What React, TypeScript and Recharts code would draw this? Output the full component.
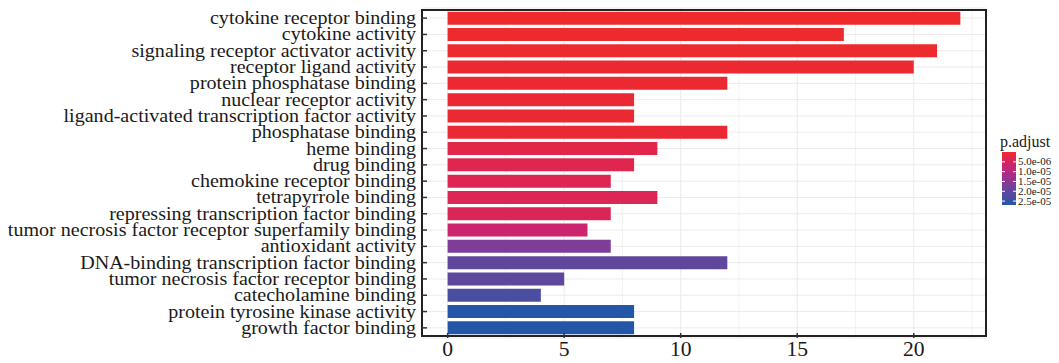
import React from "react";
import { BarChart, Bar, XAxis, YAxis, CartesianGrid, ReferenceArea, Cell } from "recharts";

const terms = [
  "cytokine receptor binding",
  "cytokine activity",
  "signaling receptor activator activity",
  "receptor ligand activity",
  "protein phosphatase binding",
  "nuclear receptor activity",
  "ligand-activated transcription factor activity",
  "phosphatase binding",
  "heme binding",
  "drug binding",
  "chemokine receptor binding",
  "tetrapyrrole binding",
  "repressing transcription factor binding",
  "tumor necrosis factor receptor superfamily binding",
  "antioxidant activity",
  "DNA-binding transcription factor binding",
  "tumor necrosis factor receptor binding",
  "catecholamine binding",
  "protein tyrosine kinase activity",
  "growth factor binding",
];

const counts = [22, 17, 21, 20, 12, 8, 8, 12, 9, 8, 7, 9, 7, 6, 7, 12, 5, 4, 8, 8];

// estimated from the fill colour
const pAdjust = [
  1e-7, 2e-7, 3e-7, 4e-7, 5e-7, 6e-7, 7e-7, 8e-7,
  2.7e-6, 3.2e-6, 3.5e-6, 3.7e-6, 4.0e-6, 6.5e-6,
  1.67e-5, 2.0e-5, 2.03e-5, 2.3e-5, 2.7e-5, 2.7e-5,
];

const xTicks = [0, 5, 10, 15, 20];
const xMinor = [2.5, 7.5, 12.5, 17.5, 22.5];
const legendTicks = [5e-6, 1e-5, 1.5e-5, 2e-5, 2.5e-5];
const legendLabels = ["5.0e-06", "1.0e-05", "1.5e-05", "2.0e-05", "2.5e-05"];

const P_LIMITS = [0, 2.7e-5];

const GRADIENT: [number, string][] = [
  [0, "#EE2A2B"],
  [0.1, "#E2264A"],
  [0.25, "#CB2470"],
  [0.45, "#A52F88"],
  [0.62, "#7E3E98"],
  [0.74, "#5F479D"],
  [0.85, "#4A4DA0"],
  [1, "#2356A6"],
];

const FONT = '"Liberation Serif", "Times New Roman", serif';

function hexToRgb(h: string) {
  return [1, 3, 5].map((i) => parseInt(h.slice(i, i + 2), 16));
}

function colorAt(t: number) {
  t = Math.max(0, Math.min(1, t));
  for (let i = 1; i < GRADIENT.length; i++) {
    const [t1, c1] = GRADIENT[i];
    const [t0, c0] = GRADIENT[i - 1];
    if (t <= t1) {
      const f = (t - t0) / (t1 - t0);
      const a = hexToRgb(c0);
      const b = hexToRgb(c1);
      const rgb = a.map((v, k) => Math.round(v + (b[k] - v) * f));
      return `rgb(${rgb.join(",")})`;
    }
  }
  return GRADIENT[GRADIENT.length - 1][1];
}

const pToT = (p: number) => (p - P_LIMITS[0]) / (P_LIMITS[1] - P_LIMITS[0]);

const data = terms.map((name, i) => ({ name, count: counts[i], p: pAdjust[i] }));

// the reference text is a bit wider than Liberation Serif, stretch it
const STRETCH = 1.115;

const YTick = (props: any) => {
  const { x, y, payload } = props;
  return (
    <g>
      <line x1={x} x2={x + 5} y1={y} y2={y} stroke="#333" strokeWidth={1.5} />
      <text
        transform={`translate(${x - 6},${y + 6}) scale(${STRETCH},1)`}
        textAnchor="end"
        fontSize={18}
        fontFamily={FONT}
        fill="#1a1a1a"
      >
        {payload.value}
      </text>
    </g>
  );
};

const XTick = (props: any) => {
  const { x, y, payload } = props;
  return (
    <g>
      <line x1={x} x2={x} y1={y - 5} y2={y} stroke="#333" strokeWidth={1.5} />
      <text
        transform={`translate(${x},${y + 18}) scale(1.08,1)`}
        textAnchor="middle"
        fontSize={20}
        fontFamily={FONT}
        fill="#1a1a1a"
      >
        {payload.value}
      </text>
    </g>
  );
};

function ColorLegend() {
  const left = 7;
  const top = 22;
  const w = 14;
  const h = 53;
  const stops = Array.from({ length: 21 }, (_, i) => i / 20);
  return (
    <svg width={64} height={90} style={{ position: "absolute", left: 995, top: 130 }}>
      <defs>
        <linearGradient id="padj" x1="0" y1="0" x2="0" y2="1">
          {stops.map((s) => (
            <stop key={s} offset={s} stopColor={colorAt(s)} />
          ))}
        </linearGradient>
      </defs>
      <text x={5} y={17} fontSize={16} fontFamily={FONT} fill="#1a1a1a">
        p.adjust
      </text>
      <rect x={left} y={top} width={w} height={h} fill="url(#padj)" />
      {legendTicks.map((v, i) => {
        const ty = top + pToT(v) * h;
        return (
          <g key={v}>
            <line x1={left} x2={left + 3} y1={ty} y2={ty} stroke="#fff" strokeWidth={1} />
            <line x1={left + w - 3} x2={left + w} y1={ty} y2={ty} stroke="#fff" strokeWidth={1} />
            <text
              transform={`translate(${left + w + 2},${ty + 3.5}) scale(1.1,1)`}
              fontSize={10}
              fontFamily={FONT}
              fill="#1a1a1a"
            >
              {legendLabels[i]}
            </text>
          </g>
        );
      })}
    </svg>
  );
}

export default function App() {
  return (
    <div style={{ position: "absolute", left: 0, top: 0, width: 1059, height: 363, background: "#fff" }}>
      <BarChart
        width={1059}
        height={363}
        data={data}
        layout="vertical"
        margin={{ top: 8, right: 73, bottom: 0, left: 0 }}
        barCategoryGap="10%"
      >
        <CartesianGrid horizontal={false} verticalValues={xMinor} stroke="#F3F3F3" strokeWidth={1} />
        <CartesianGrid verticalValues={xTicks} stroke="#EBEBEB" strokeWidth={1} />
        <XAxis
          type="number"
          domain={[-1.1, 23.1]}
          ticks={xTicks}
          allowDataOverflow
          axisLine={false}
          tickLine={false}
          tickSize={0}
          tickMargin={0}
          height={25}
          tick={<XTick />}
          interval={0}
        />
        <YAxis
          type="category"
          dataKey="name"
          width={422}
          axisLine={false}
          tickLine={false}
          tickSize={0}
          tickMargin={0}
          padding={{ top: 2, bottom: 2 }}
          tick={<YTick />}
          interval={0}
        />
        <Bar dataKey="count" isAnimationActive={false}>
          {data.map((d, i) => (
            <Cell key={i} fill={colorAt(pToT(d.p))} />
          ))}
        </Bar>
        <ReferenceArea x1={-1.1} x2={23.1} fill="none" stroke="#222" strokeWidth={2} ifOverflow="visible" />
      </BarChart>
      <ColorLegend />
    </div>
  );
}
